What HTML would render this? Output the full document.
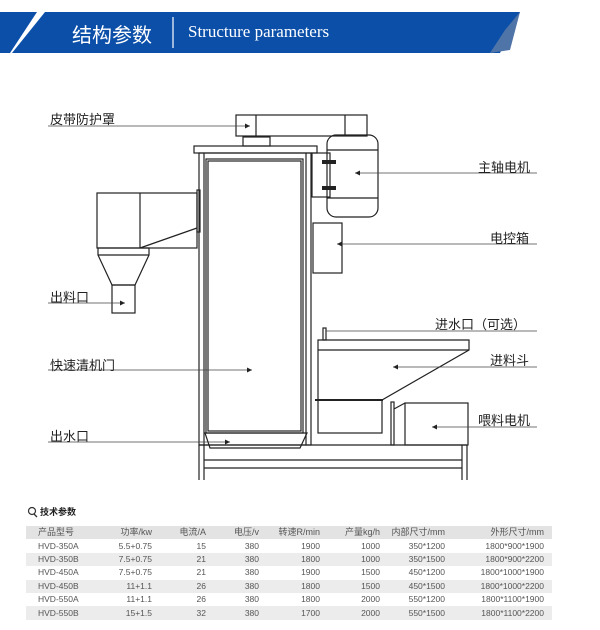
<!DOCTYPE html>
<html><head><meta charset="utf-8"><style>
body{margin:0;width:600px;height:630px;background:#fff;overflow:hidden;position:relative;font-family:"Liberation Sans","Noto Sans CJK SC",sans-serif}
.t{position:absolute;font-size:13px;color:#222;white-space:nowrap}
table{position:absolute;left:26px;top:526px;width:526px;border-collapse:collapse;font-size:8.5px;color:#555;table-layout:fixed;white-space:nowrap}
td{height:13.4px;padding:0;text-align:right;line-height:13px;overflow:visible}
td:first-child{text-align:left;padding-left:12px}
tr.g{background:#ececec}
tr.h{background:#e3e3e3;font-size:9px}
</style></head><body>
<svg width="600" height="630" style="position:absolute;left:0;top:0">
<polygon points="0,12 37,12 10,53 0,53" fill="#0b4fa9"/>
<polygon points="45,12 520,12 500,53 12,53" fill="#0b4fa9"/>
<polygon points="505,30 520,12 510,50 490,53" fill="#4f74a8"/>
<line x1="173" y1="17" x2="173" y2="48" stroke="#fff" stroke-width="1.2"/>
<g fill="none" stroke="#222" stroke-width="1.2">
<rect x="236" y="115" width="131" height="21"/>
<line x1="256" y1="115" x2="256" y2="136"/><line x1="345" y1="115" x2="345" y2="136"/>
<rect x="243" y="137" width="27" height="9"/>
<rect x="194" y="146" width="123" height="7"/>
<rect x="199" y="153" width="112" height="292"/>
<line x1="204" y1="153" x2="204" y2="480"/><line x1="306" y1="153" x2="306" y2="445"/>
<rect x="206" y="159" width="97" height="274"/>
<rect x="208" y="161" width="93" height="270"/>
<polygon points="205,433 307,433 300,448 210,448"/>
<line x1="199" y1="445" x2="467" y2="445"/>
<line x1="204" y1="460" x2="462" y2="460"/>
<line x1="204" y1="468" x2="462" y2="468"/>
<line x1="199" y1="445" x2="199" y2="480"/>
<line x1="462" y1="445" x2="462" y2="480"/><line x1="467" y1="445" x2="467" y2="480"/>
<rect x="312" y="153" width="18" height="44"/>
<rect x="327" y="135" width="51" height="82" rx="9"/>
<line x1="327" y1="150" x2="378" y2="150"/><line x1="327" y1="198" x2="378" y2="198"/>
<rect x="313" y="223" width="29" height="50"/>
<rect x="97" y="193" width="100" height="55"/>
<line x1="140" y1="193" x2="140" y2="248"/>
<line x1="140" y1="248" x2="197" y2="228"/>
<rect x="197" y="190" width="3" height="42"/>
<polygon points="98,248 149,248 149,255 135,285 112,285 98,255"/>
<line x1="98" y1="255" x2="149" y2="255"/>
<rect x="112" y="285" width="23" height="28"/>
<rect x="323" y="328" width="3" height="12"/>
<polygon points="318,340 469,340 469,350 382,400 318,400"/>
<line x1="318" y1="350" x2="469" y2="350"/>
<rect x="318" y="400" width="64" height="33"/>
<line x1="315" y1="400" x2="383" y2="400" stroke-width="2"/>
<rect x="391" y="402" width="3" height="43"/>
<line x1="394" y1="409" x2="405" y2="403"/>
<rect x="405" y="403" width="63" height="42"/>
</g>
<g fill="#222"><rect x="322" y="160" width="14" height="4"/><rect x="322" y="186" width="14" height="4"/></g>
<g stroke="#444" stroke-width="0.8">
<line x1="48" y1="126" x2="250" y2="126"/>
<line x1="355" y1="173" x2="537" y2="173"/>
<line x1="337" y1="244" x2="537" y2="244"/>
<line x1="48" y1="303" x2="125" y2="303"/>
<line x1="326" y1="331" x2="537" y2="331"/>
<line x1="48" y1="370" x2="252" y2="370"/>
<line x1="393" y1="367" x2="537" y2="367"/>
<line x1="48" y1="442" x2="230" y2="442"/>
<line x1="432" y1="427" x2="537" y2="427"/>
</g>
<g fill="#222">
<polygon points="250,126 245,123.5 245,128.5"/><polygon points="355,173 360,170.5 360,175.5"/>
<polygon points="337,244 342,241.5 342,246.5"/><polygon points="125,303 120,300.5 120,305.5"/>
<polygon points="252,370 247,367.5 247,372.5"/><polygon points="393,367 398,364.5 398,369.5"/>
<polygon points="230,442 225,439.5 225,444.5"/><polygon points="432,427 437,424.5 437,429.5"/>
</g>
<circle cx="32" cy="511" r="3.5" fill="none" stroke="#333" stroke-width="1.2"/><line x1="34" y1="514" x2="37" y2="517" stroke="#333" stroke-width="1.3"/>
</svg>
<div class="t" style="left:72px;top:19px;font-size:20px;color:#fff">结构参数</div>
<div class="t" style="left:188px;top:22px;font-size:17px;color:#fff;font-family:'Liberation Serif',serif">Structure parameters</div>
<div class="t" style="left:50px;top:109px">皮带防护罩</div>
<div class="t" style="left:478px;top:157px">主轴电机</div>
<div class="t" style="left:490px;top:228px">电控箱</div>
<div class="t" style="left:50px;top:287px">出料口</div>
<div class="t" style="left:435px;top:314px">进水口（可选）</div>
<div class="t" style="left:50px;top:355px">快速清机门</div>
<div class="t" style="left:490px;top:350px">进料斗</div>
<div class="t" style="left:50px;top:426px">出水口</div>
<div class="t" style="left:478px;top:410px">喂料电机</div>
<div class="t" style="left:40px;top:505px;font-size:9px;font-weight:bold">技术参数</div>
<table>
<colgroup><col style="width:58px"><col style="width:68px"><col style="width:54px"><col style="width:53px"><col style="width:61px"><col style="width:60px"><col style="width:65px"><col style="width:107px"></colgroup>
<tr class="h"><td>产品型号</td><td>功率/kw</td><td>电流/A</td><td>电压/v</td><td>转速R/min</td><td>产量kg/h</td><td>内部尺寸/mm</td><td style="padding-right:8px">外形尺寸/mm</td></tr>
<tr><td>HVD-350A</td><td>5.5+0.75</td><td>15</td><td>380</td><td>1900</td><td>1000</td><td>350*1200</td><td style="padding-right:8px">1800*900*1900</td></tr>
<tr class="g"><td>HVD-350B</td><td>7.5+0.75</td><td>21</td><td>380</td><td>1800</td><td>1000</td><td>350*1500</td><td style="padding-right:8px">1800*900*2200</td></tr>
<tr><td>HVD-450A</td><td>7.5+0.75</td><td>21</td><td>380</td><td>1900</td><td>1500</td><td>450*1200</td><td style="padding-right:8px">1800*1000*1900</td></tr>
<tr class="g"><td>HVD-450B</td><td>11+1.1</td><td>26</td><td>380</td><td>1800</td><td>1500</td><td>450*1500</td><td style="padding-right:8px">1800*1000*2200</td></tr>
<tr><td>HVD-550A</td><td>11+1.1</td><td>26</td><td>380</td><td>1800</td><td>2000</td><td>550*1200</td><td style="padding-right:8px">1800*1100*1900</td></tr>
<tr class="g"><td>HVD-550B</td><td>15+1.5</td><td>32</td><td>380</td><td>1700</td><td>2000</td><td>550*1500</td><td style="padding-right:8px">1800*1100*2200</td></tr>
</table>
</body></html>
